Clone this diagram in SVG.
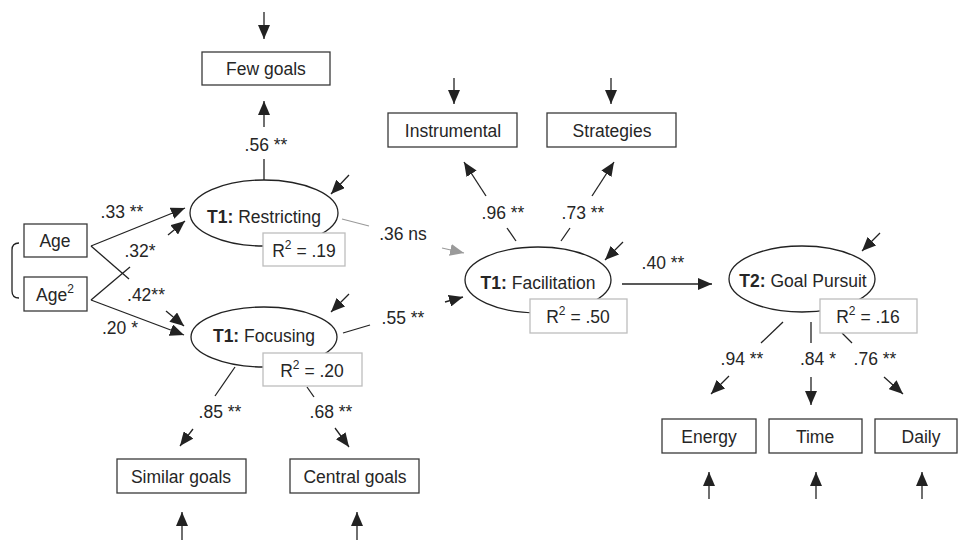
<svg xmlns="http://www.w3.org/2000/svg" width="958" height="540" viewBox="0 0 958 540">
<style>
text{font-family:"Liberation Sans",Arial,sans-serif;font-size:17.5px;fill:#262626;text-anchor:middle;dominant-baseline:central}
.b{font-weight:bold}
.box{fill:#fff;stroke:#3a3a3a;stroke-width:1.3}
.r2{fill:#fff;stroke:#bdbdbd;stroke-width:1.3}
.ell{fill:#fff;stroke:#222;stroke-width:1.3}
.ln{fill:none;stroke:#222;stroke-width:1.3}
.ar{fill:none;stroke:#222;stroke-width:1.3;marker-end:url(#ah)}
.gl{fill:none;stroke:#9a9a9a;stroke-width:1.2}
.ga{fill:none;stroke:#9a9a9a;stroke-width:1.2;marker-end:url(#gh)}
</style>
<defs>
<marker id="ah" markerUnits="userSpaceOnUse" markerWidth="14" markerHeight="12" refX="14" refY="6" orient="auto"><path d="M0,0 L14,6 L0,12 z" fill="#222"/></marker>
<marker id="gh" markerUnits="userSpaceOnUse" markerWidth="14" markerHeight="12" refX="14" refY="6" orient="auto"><path d="M0,0 L14,6 L0,12 z" fill="#9a9a9a"/></marker>
</defs>
<rect width="958" height="540" fill="#fff"/>

<g id="connectors">
<line class="ar" x1="264" y1="12" x2="264" y2="39"/>
<line class="ar" x1="454" y1="78" x2="454" y2="104"/>
<line class="ar" x1="611" y1="78" x2="611" y2="104"/>
<line class="ar" x1="182" y1="540" x2="182" y2="512"/>
<line class="ar" x1="357" y1="540" x2="357" y2="512"/>
<line class="ar" x1="709" y1="499" x2="709" y2="472"/>
<line class="ar" x1="816" y1="499" x2="816" y2="472"/>
<line class="ar" x1="922" y1="499" x2="922" y2="472"/>
<line class="ar" x1="349" y1="175" x2="331" y2="194"/>
<line class="ar" x1="349" y1="294" x2="331" y2="312"/>
<line class="ar" x1="623" y1="242" x2="605" y2="260"/>
<line class="ar" x1="880" y1="233" x2="862" y2="251"/>
<path class="ln" d="M19,243 Q12,243 12,250 L12,291 Q12,298 19,298" stroke="#555"/>
<line class="ar" x1="91" y1="246" x2="185" y2="208"/>
<line class="ln" x1="91" y1="246" x2="129" y2="279"/>
<line class="ar" x1="166" y1="311" x2="184" y2="326"/>
<line class="ln" x1="91" y1="300" x2="130" y2="267"/>
<line class="ar" x1="168" y1="235" x2="185" y2="221"/>
<line class="ar" x1="91" y1="300" x2="184" y2="335"/>
<line class="ln" x1="264" y1="180" x2="264" y2="159"/>
<line class="ar" x1="264" y1="127" x2="264" y2="101"/>
<line class="gl" x1="342" y1="219" x2="369" y2="226"/>
<line class="ga" x1="442" y1="248" x2="464" y2="253"/>
<line class="ln" x1="343" y1="333" x2="370" y2="325"/>
<line class="ar" x1="445" y1="302" x2="463" y2="297"/>
<line class="ln" x1="235" y1="367" x2="215" y2="396"/>
<line class="ar" x1="193" y1="429" x2="180" y2="446"/>
<line class="ln" x1="307" y1="387" x2="314" y2="397"/>
<line class="ar" x1="335" y1="428" x2="349" y2="447"/>
<line class="ln" x1="516" y1="241" x2="507" y2="228"/>
<line class="ar" x1="486" y1="196" x2="464" y2="162"/>
<line class="ln" x1="561" y1="241" x2="570" y2="228"/>
<line class="ar" x1="592" y1="196" x2="614" y2="162"/>
<line class="ar" x1="622" y1="284" x2="712" y2="284"/>
<line class="ln" x1="783" y1="322" x2="761" y2="343"/>
<line class="ar" x1="729" y1="376" x2="711" y2="394"/>
<line class="ln" x1="811" y1="322" x2="811" y2="343"/>
<line class="ar" x1="811" y1="377" x2="811" y2="405"/>
<line class="ln" x1="842" y1="333" x2="852" y2="343"/>
<line class="ar" x1="884" y1="377" x2="903" y2="394"/>
</g>

<g id="labels">
<text x="266" y="145">.56 **</text>
<text x="122" y="212">.33 **</text>
<text x="140" y="251">.32*</text>
<text x="146" y="295">.42**</text>
<text x="120" y="328">.20 *</text>
<text x="403" y="234">.36 ns</text>
<text x="403" y="318">.55 **</text>
<text x="220" y="412">.85 **</text>
<text x="331" y="412">.68 **</text>
<text x="503" y="213">.96 **</text>
<text x="583" y="213">.73 **</text>
<text x="663" y="263">.40 **</text>
<text x="742" y="359">.94 **</text>
<text x="818" y="359">.84 *</text>
<text x="875" y="359">.76 **</text>
</g>

<g id="few-goals"><rect class="box" x="202" y="52" width="128" height="33"/><text x="266" y="69">Few goals</text></g>
<g id="instrumental"><rect class="box" x="388" y="113" width="129" height="34"/><text x="453" y="131">Instrumental</text></g>
<g id="strategies"><rect class="box" x="547" y="113" width="129" height="34"/><text x="612" y="131">Strategies</text></g>
<g id="age"><rect class="box" x="24" y="224" width="63" height="33"/><text x="55" y="241">Age</text></g>
<g id="age2"><rect class="box" x="24" y="277" width="63" height="34"/><text x="55" y="295">Age<tspan font-size="12" dy="-6">2</tspan></text></g>

<g id="restricting">
<ellipse class="ell" cx="264" cy="213" rx="74" ry="33"/>
<text x="264" y="217"><tspan class="b">T1:</tspan> Restricting</text>
</g>
<g id="r2-restricting"><rect class="r2" x="263" y="233" width="82" height="33"/><text x="304" y="251">R<tspan font-size="12" dy="-6">2</tspan><tspan dy="6"> = .19</tspan></text></g>

<g id="focusing">
<ellipse class="ell" cx="264" cy="337" rx="73" ry="30"/>
<text x="264" y="336"><tspan class="b">T1:</tspan> Focusing</text>
</g>
<g id="r2-focusing"><rect class="r2" x="263" y="353" width="99" height="33"/><text x="312" y="371">R<tspan font-size="12" dy="-6">2</tspan><tspan dy="6"> = .20</tspan></text></g>

<g id="facilitation">
<ellipse class="ell" cx="538" cy="280" rx="73" ry="33"/>
<text x="538" y="283"><tspan class="b">T1:</tspan> Facilitation</text>
</g>
<g id="r2-facilitation"><rect class="r2" x="530" y="299" width="97" height="34"/><text x="578" y="317">R<tspan font-size="12" dy="-6">2</tspan><tspan dy="6"> = .50</tspan></text></g>

<g id="goal-pursuit">
<ellipse class="ell" cx="802" cy="279" rx="73" ry="33"/>
<text x="803" y="281"><tspan class="b">T2:</tspan> Goal Pursuit</text>
</g>
<g id="r2-goal-pursuit"><rect class="r2" x="820" y="299" width="97" height="34"/><text x="868" y="317">R<tspan font-size="12" dy="-6">2</tspan><tspan dy="6"> = .16</tspan></text></g>

<g id="similar-goals"><rect class="box" x="117" y="459" width="129" height="34"/><text x="181" y="477">Similar goals</text></g>
<g id="central-goals"><rect class="box" x="290" y="459" width="129" height="34"/><text x="355" y="477">Central goals</text></g>
<g id="energy"><rect class="box" x="662" y="419" width="94" height="34"/><text x="709" y="437">Energy</text></g>
<g id="time"><rect class="box" x="769" y="419" width="93" height="34"/><text x="815" y="437">Time</text></g>
<g id="daily"><rect class="box" x="875" y="419" width="82" height="34"/><text x="921" y="437">Daily</text></g>
</svg>
